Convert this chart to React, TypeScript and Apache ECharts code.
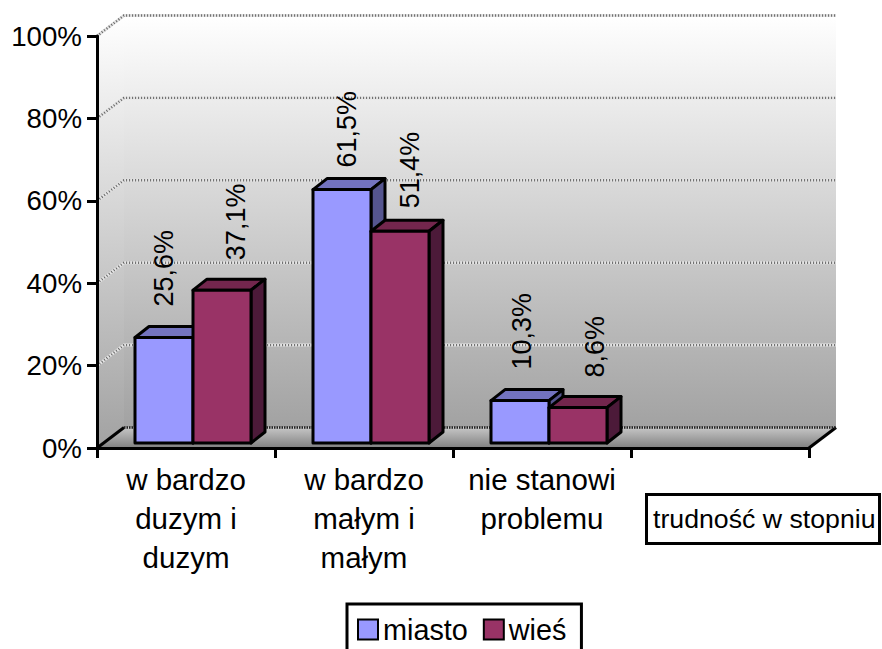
import React, { useEffect, useRef } from "react";
import * as echarts from "echarts";

const categories = ["w bardzo\nduzym i\nduzym", "w bardzo\nmałym i\nmałym", "nie stanowi\nproblemu", ""];
const miasto = [25.6, 61.5, 10.3];
const wies = [37.1, 51.4, 8.6];
const gridTicks = [20, 40, 60, 80, 100];
const floorTick = [0];
const axisTitle = "trudność w stopniu";
const seriesNames = ["miasto", "wieś"];

// layout (hand-placed label nudges of the original)
const miastoLabelNudge = [[0, 31], [5, 22], [2, 31]];
const wiesLabelNudge = [[14, 30], [10, 23], [17, 30]];
const FONT = '"Liberation Sans", Arial, sans-serif';
const FS_TITLE = 26.7;
const FS_DATA = 27;
const FS_CAT = 29.5;
const FS_VAL = 27.7;
const FS_LEGEND = 28.8;
const DX = 27, DY = 20.5; // full chart depth
const BX = 7, BY = 5; // bar front plane offset
const TX = 14, TY = 11; // bar depth
const BAR_RATIO = 58 / 178;
const LW = 3;

const fmt = (v: number) => v.toFixed(1).replace(".", ",") + "%";

function barRenderer(side: number, colors: string[], nudges: number[][]) {
  return (params: any, api: any) => {
    const idx = params.dataIndex;
    const v = api.value(1);
    const top = api.coord([api.value(0), v]);
    const base = api.coord([api.value(0), 0]);
    const w = api.size([1, 0])[0] * BAR_RATIO;
    const x0 = top[0] + BX + (side === 0 ? -w : 0);
    const x1 = x0 + w;
    const y0 = top[1] - BY;
    const y1 = base[1] - BY;
    const stroke = { stroke: "#000", lineWidth: LW, lineJoin: "round" };
    return {
      type: "group",
      children: [
        { type: "polygon", shape: { points: [[x0, y0], [x0 + TX, y0 - TY], [x1 + TX, y0 - TY], [x1, y0]] }, style: { fill: colors[1], ...stroke } },
        { type: "polygon", shape: { points: [[x1, y0], [x1 + TX, y0 - TY], [x1 + TX, y1 - TY], [x1, y1]] }, style: { fill: colors[2], ...stroke } },
        { type: "rect", shape: { x: x0, y: y0, width: w, height: y1 - y0 }, style: { fill: colors[0], ...stroke } },
        {
          type: "text",
          x: (x0 + x1) / 2 + nudges[idx][0],
          y: top[1] - BY - nudges[idx][1],
          rotation: Math.PI / 2,
          style: { text: fmt(v), font: `${FS_DATA}px ${FONT}`, fill: "#000", textAlign: "left", textVerticalAlign: "middle" },
        },
      ],
    };
  };
}

function wallRenderer(_params: any, api: any) {
  const cs = _params.coordSys;
  const left = cs.x, right = cs.x + cs.width;
  const y0 = api.coord([0, 0])[1];
  const y100 = api.coord([0, 100])[1];
  const wallGrad = new echarts.graphic.LinearGradient(0, 0, 0, 1, [
    { offset: 0, color: "#ffffff" },
    { offset: 1, color: "#a2a2a2" },
  ]);
  const floorGrad = new echarts.graphic.LinearGradient(0, 0, 0, 1, [
    { offset: 0, color: "#c6c6c6" },
    { offset: 1, color: "#808080" },
  ]);
  return {
    type: "group",
    children: [
      { type: "polygon", shape: { points: [[left, y100], [left + DX, y100 - DY], [left + DX, y0 - DY], [left, y0]] }, style: { fill: wallGrad } },
      { type: "rect", shape: { x: left + DX, y: y100 - DY, width: cs.width, height: y0 - y100 }, style: { fill: wallGrad } },
      { type: "polygon", shape: { points: [[left, y0], [left + DX, y0 - DY], [right + DX, y0 - DY], [right, y0]] }, style: { fill: floorGrad } },
      { type: "line", shape: { x1: left, y1: y0, x2: left + DX, y2: y0 - DY }, style: { stroke: "#000", lineWidth: LW } },
      { type: "line", shape: { x1: right, y1: y0, x2: right + DX, y2: y0 - DY }, style: { stroke: "#000", lineWidth: LW } },
      { type: "line", shape: { x1: left + DX, y1: y0 - DY, x2: right + DX, y2: y0 - DY }, style: { stroke: "#222", lineWidth: 2.5, lineDash: [1.5, 1] } },
    ],
  };
}

function gridRenderer(params: any, api: any) {
  const cs = params.coordSys;
  const left = cs.x, right = cs.x + cs.width;
  const y = api.coord([0, api.value(1)])[1];
  const points = [[left, y], [left + DX, y - DY], [right + DX, y - DY]];
  return {
    type: "group",
    children: [
      { type: "polyline", shape: { points }, style: { stroke: "#e4e4e4", lineWidth: 3, fill: "none" } },
      { type: "polyline", shape: { points }, style: { stroke: "#666", lineWidth: 2.4, lineDash: [1, 2], fill: "none" } },
    ],
  };
}

export default function App() {
  const ref = useRef<HTMLDivElement>(null);
  useEffect(() => {
    document.body.style.margin = "0";
    const chart = echarts.init(ref.current!, undefined, { renderer: "svg" });
    chart.setOption({
      animation: false,
      backgroundColor: "#fff",
      textStyle: { fontFamily: FONT },
      grid: { left: 97, top: 36, width: 712, height: 412 },
      title: {
        text: axisTitle,
        left: 646,
        top: 494,
        padding: [10, 4, 10, 7],
        borderColor: "#000",
        borderWidth: LW,
        backgroundColor: "#fff",
        textStyle: { fontFamily: FONT, fontSize: FS_TITLE, fontWeight: "normal", color: "#000", lineHeight: 30 },
      },
      legend: {
        left: 347,
        top: 604,
        padding: [11, 15, 30, 10],
        borderColor: "#000",
        borderWidth: LW,
        backgroundColor: "#fff",
        itemWidth: 20,
        itemHeight: 20,
        itemGap: 15,
        icon: "rect",
        data: seriesNames,
        selectedMode: false,
        textStyle: { fontFamily: FONT, fontSize: FS_LEGEND, color: "#000", padding: [0, 0, 0, 0] },
      },
      xAxis: {
        type: "category",
        data: categories,
        z: 10,
        axisLine: { lineStyle: { color: "#000", width: LW } },
        axisTick: { show: true, alignWithLabel: false, length: 10, lineStyle: { color: "#000", width: LW } },
        axisLabel: { interval: 0, color: "#000", fontSize: FS_CAT, fontFamily: FONT, lineHeight: 39, margin: 12 },
      },
      yAxis: {
        type: "value",
        min: 0,
        max: 100,
        interval: 20,
        z: 10,
        axisLine: { show: true, lineStyle: { color: "#000", width: LW } },
        axisTick: { show: true, length: 10, lineStyle: { color: "#000", width: LW } },
        axisLabel: { color: "#000", fontSize: FS_VAL, fontFamily: FONT, margin: 15, formatter: "{value}%" },
        splitLine: { show: false },
      },
      series: [
        { type: "custom", name: "walls", z: 1, silent: true, renderItem: wallRenderer, data: floorTick.map((v) => [0, v]) },
        { type: "custom", name: "gridlines", z: 2, silent: true, renderItem: gridRenderer, data: gridTicks.map((v) => [0, v]) },
        {
          type: "custom", name: seriesNames[0], z: 3, silent: true,
          itemStyle: { color: "#9999ff", borderColor: "#000", borderWidth: LW },
          renderItem: barRenderer(0, ["#9999ff", "#7373bf", "#55558f"], miastoLabelNudge),
          data: miasto.map((v, i) => [i, v]),
        },
        {
          type: "custom", name: seriesNames[1], z: 4, silent: true,
          itemStyle: { color: "#993366", borderColor: "#000", borderWidth: LW },
          renderItem: barRenderer(1, ["#993366", "#73264d", "#4c1a39"], wiesLabelNudge),
          data: wies.map((v, i) => [i, v]),
        },
      ],
    });
    return () => chart.dispose();
  }, []);
  return <div ref={ref} style={{ width: 882, height: 649, position: "absolute", left: 0, top: 0 }} />;
}
